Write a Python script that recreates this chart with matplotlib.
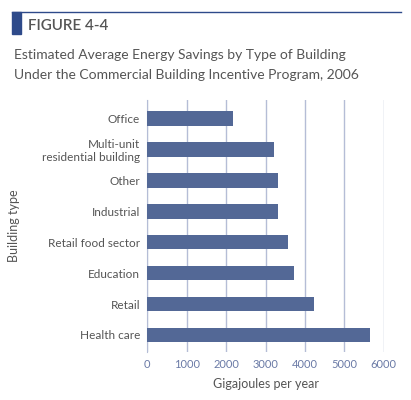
import matplotlib.pyplot as plt
from matplotlib.patches import Rectangle
from matplotlib.lines import Line2D

categories = ['Office', 'Multi-unit\nresidential building', 'Other', 'Industrial',
              'Retail food sector', 'Education', 'Retail', 'Health care']
savings = [2180, 3210, 3310, 3310, 3580, 3710, 4240, 5660]
xticks = [0, 1000, 2000, 3000, 4000, 5000, 6000]

plt.rcParams['font.family'] = ['Lato', 'DejaVu Sans']
bar_color = '#536896'
grid_color = '#b5bdd6'
text_color = '#555555'
tick_color = '#6a7aa6'

fig = plt.figure(figsize=(4.11, 4.0), dpi=100)
ax = fig.add_axes([0.358, 0.12, 0.576, 0.63])

ypos = list(range(len(categories)))[::-1]
ax.barh(ypos, savings, height=0.47, color=bar_color, zorder=3)
ax.set_xlim(0, 6000)
ax.set_ylim(-0.55, 7.6)
ax.set_xticks(xticks)
ax.set_xticklabels([str(x) for x in xticks], color=tick_color, fontsize=8)
ax.set_yticks(ypos)
ax.set_yticklabels(categories, color=text_color, fontsize=8.5)
ax.tick_params(length=0, pad=5)
ax.grid(axis='x', color=grid_color, lw=1, zorder=0)
for s in ['top', 'right', 'bottom']:
    ax.spines[s].set_visible(False)
ax.spines['left'].set_color(grid_color)
ax.set_xlabel('Gigajoules per year', color=text_color, fontsize=9, labelpad=6)
fig.text(0.035, 0.435, 'Building type', rotation=90, va='center', ha='center',
         color=text_color, fontsize=9)

# header
fig.add_artist(Line2D([0.03, 0.975], [0.97, 0.97], color='#2e4a8a', lw=1))
fig.add_artist(Rectangle((0.03, 0.915), 0.02, 0.055, color='#2e4a8a'))
fig.text(0.068, 0.935, 'FIGURE 4-4', fontsize=11, fontweight='semibold',
         color='#555555', va='center')
fig.text(0.035, 0.862, 'Estimated Average Energy Savings by Type of Building',
         fontsize=10, color=text_color, va='center')
fig.text(0.035, 0.812, 'Under the Commercial Building Incentive Program, 2006',
         fontsize=10, color=text_color, va='center')

fig.savefig('out.png', dpi=100)
